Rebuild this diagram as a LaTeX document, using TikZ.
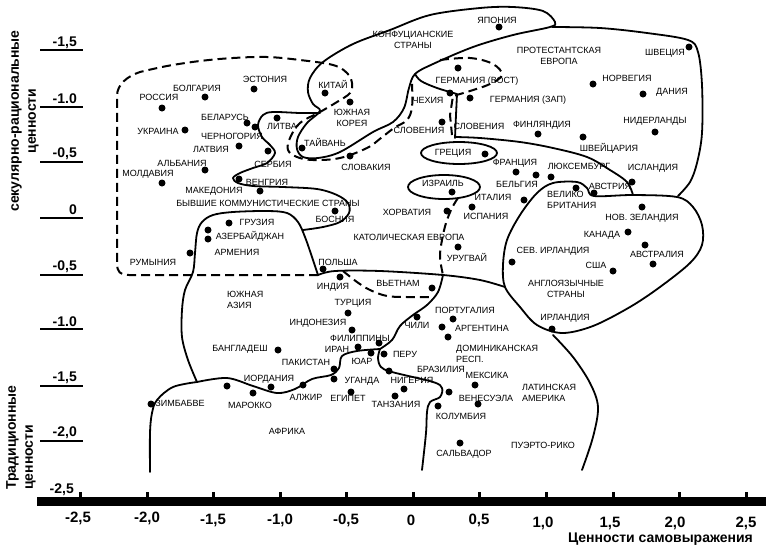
\documentclass[tikz,border=0pt]{standalone}
\usepackage{fontspec}
\setmainfont{Liberation Sans}
\tikzset{
  country/.style={circle,fill=black,inner sep=0pt,minimum size=7pt},
  cname/.style={font=\fontsize{9}{11}\selectfont,inner sep=0pt,align=center},
  zone/.style={line width=1.8pt,line join=round,line cap=round},
  exzone/.style={line width=2pt,dash pattern=on 9pt off 5pt},
  axnum/.style={font=\bfseries\fontsize{14}{16}\selectfont,inner sep=0pt},
  axtitle/.style={font=\bfseries\fontsize{14}{17}\selectfont,inner sep=0pt}
}

\begin{document}
\begin{tikzpicture}[x=1pt,y=-1pt]
\useasboundingbox (0,0) rectangle (766,550);

% zones
\draw[zone] plot[smooth cycle,tension=0.55] coordinates {(555,22) (543,11) (513,7) (480,8) (430,15) (390,30) (353,44) (323,62) (310,78) (308,92) (313,104) (320,111) (307,123) (298,137) (297,149) (303,157) (318,158) (340,152) (373,132) (393,122) (404,108) (409,88) (415,74) (433,64) (473,47) (513,35) (550,27)};
\draw[zone] plot[smooth,tension=0.55] coordinates {(552,27) (600,28) (647,33) (688,40) (698,52) (702,85) (702,133) (697,163) (690,182) (678,196)};
\draw[zone] plot[smooth,tension=0.55] coordinates {(633,195) (627,182) (610,170) (587,157) (553,148) (520,142) (480,138) (455,137)};
\draw[zone] plot[smooth,tension=0.55] coordinates {(415,74) (421,81) (437,88) (457,94)} -- (456,115) -- (455,138);
\draw[zone] plot[smooth cycle,tension=0.55] coordinates {(520,215) (537,193) (553,183) (577,182) (587,188) (594,196) (633,195) (677,197) (693,207) (702,225) (702,245) (690,263) (660,287) (630,307) (593,326) (562,333) (537,325) (520,307) (505,287) (503,265) (507,240)};
\draw[zone] plot[smooth,tension=0.55] coordinates {(320,113) (300,113) (273,112) (263,115) (258,125) (262,137) (270,145) (275,153) (267,163) (253,168) (240,173) (233,178) (238,183) (253,186) (283,187) (317,189) (337,195) (348,203) (349,213) (340,222) (323,227) (303,230)};
\draw[zone] plot[smooth,tension=0.55] coordinates {(197,382) (188,360) (182,337) (182,310) (185,290) (193,272) (195,253) (197,233) (202,222) (213,215) (233,212) (267,211) (287,213) (298,222) (305,237) (312,257) (318,275)};
\draw[zone] plot[smooth,tension=0.55] coordinates {(318,275) (335,271) (380,271) (443,275) (480,280) (505,287)};
\draw[zone] plot[smooth,tension=0.55] coordinates {(553,335) (573,357) (590,383) (598,407) (593,437) (582,470)};
\draw[zone] plot[smooth,tension=0.55] coordinates {(197,382) (227,378) (253,386) (277,393) (295,389) (312,379) (331,375) (339,368) (342,356) (357,351) (380,349)};
\draw[zone] plot[smooth,tension=0.55] coordinates {(197,382) (173,387) (157,400) (152,413) (150,433) (150,472)};
\draw[zone] plot[smooth,tension=0.55] coordinates {(380,349) (378,358) (381,367) (392,372) (433,382) (442,388) (440,397) (430,402) (427,412) (426,433) (422,470)};
\draw[zone] plot[smooth,tension=0.55] coordinates {(380,349) (392,340) (400,326) (413,315) (427,305) (438,292) (443,275)};
\draw[zone] (459,153) ellipse [x radius=38,y radius=11];
\draw[zone] (444,187) ellipse [x radius=36,y radius=12];

% former communist border
\draw[exzone] (318,275) -- (129,275) .. controls (120,275) and (117,272) .. (117,263) -- (117,96) .. controls (117,84) and (128,76) .. (140,72)
  -- plot[smooth,tension=0.6] coordinates {(140,72) (167,66) (200,61) (233,58) (267,57) (300,60) (333,65) (347,73) (352,83) (350,93) (337,102) (320,112) (300,123) (290,138) (288,150) (297,157) (313,160) (340,158) (367,148) (381,138) (394,128) (407,120) (412,107) (412,84)};
\draw[exzone] plot[smooth,tension=0.6] coordinates {(440,60) (470,58) (493,64) (502,75) (490,84) (470,91) (453,96)} -- (450,115) -- (452,135);
\draw[exzone] plot[smooth,tension=0.6] coordinates {(458,198) (452,208) (446,223) (442,240) (440,257) (443,275)};
\draw[exzone] plot[smooth,tension=0.6] coordinates {(343,271) (357,282) (370,290) (387,296) (407,297) (430,297)};

% axes
\fill (37,497) rectangle (766,506);
\foreach \xa in {80,147,213,280,346,413,479,546,613,679,746}
  \fill (\xa-1.5,492) rectangle (\xa+1.5,497);
\foreach \t/\xa/\ya [count=\i] in {{-2,5}/78/518, {-2,0}/147/518, {-1,5}/213/520, {-1,0}/280/520, {-0,5}/346/520, {0}/411/520, {0,5}/479/520, {1,0}/543/523, {1,5}/610/523, {2,0}/675/523, {2,5}/746/523}
  \node[axnum,font=\bfseries\fontsize{15}{17}\selectfont] (xn\i) at (\xa,\ya) {\t};
\foreach \t/\ya/\yb [count=\i] in {{-1,5}/43/50, {-1.0}/99/107, {-0,5}/154/162, {0}/210/218, {-0,5}/267/275, {-1.0}/322/329, {-1,5}/378/386, {-2,0}/433/441}
{
  \node[axnum,anchor=east] (yn\i) at (77,\ya) {\t};
  \draw[line width=2pt] (40,\yb) -- (83,\yb);
}
\node[axnum,anchor=east] (yn9) at (74,490) {-2,5};
\node[axtitle,anchor=east] (xtitle) at (753,539) {Ценности самовыражения};
\node[axtitle,rotate=90,align=center] (ytop) at (25,121) {секулярно-рациональные\\ценности};
\node[axtitle,rotate=90,anchor=west,align=left] (ybot) at (21,490) {Традиционные\\ценности};

% countries
\node[country] (rus) at (162,108) {}; \node[cname] (rus t) at (159,97) {РОССИЯ};
\node[country] (bul) at (205,97) {}; \node[cname] (bul t) at (197,88) {БОЛГАРИЯ};
\node[country] (est) at (254,89) {}; \node[cname] (est t) at (265,79) {ЭСТОНИЯ};
\node[country] (chn) at (325,93) {}; \node[cname] (chn t) at (333,84) {КИТАЙ};
\node[country] (kor) at (350,102) {}; \node[cname] (kor t) at (352,118) {ЮЖНАЯ\\КОРЕЯ};
\node[country] (blr) at (247,123) {}; \node[cname] (blr t) at (225,117) {БЕЛАРУСЬ};
\node[country] (mne) at (255,127) {}; \node[cname] (mne t) at (232,136) {ЧЕРНОГОРИЯ};
\node[country] (ltu) at (277,118) {}; \node[cname] (ltu t) at (282,126) {ЛИТВА};
\node[country] (ukr) at (185,130) {}; \node[cname] (ukr t) at (158,131) {УКРАИНА};
\node[country] (lva) at (239,146) {}; \node[cname] (lva t) at (211,149) {ЛАТВИЯ};
\node[country] (srb) at (268,151) {}; \node[cname] (srb t) at (273,164) {СЕРБИЯ};
\node[country] (twn) at (302,148) {}; \node[cname] (twn t) at (325,142) {ТАЙВАНЬ};
\node[country] (alb) at (205,170) {}; \node[cname] (alb t) at (182,163) {АЛЬБАНИЯ};
\node[country] (svk) at (350,156) {}; \node[cname] (svk t) at (366,167) {СЛОВАКИЯ};
\node[country] (mda) at (162,183) {}; \node[cname] (mda t) at (148,174) {МОЛДАВИЯ};
\node[country] (hun) at (239,179) {}; \node[cname] (hun t) at (267,182) {ВЕНГРИЯ};
\node[country] (mkd) at (260,191) {}; \node[cname] (mkd t) at (214,191) {МАКЕДОНИЯ};
\node[country] (bih) at (335,211) {}; \node[cname] (bih t) at (335,219) {БОСНИЯ};
\node[country] (geo) at (229,223) {}; \node[cname] (geo t) at (257,222) {ГРУЗИЯ};
\node[country] (aze) at (208,230) {}; \node[cname] (aze t) at (250,236) {АЗЕРБАЙДЖАН};
\node[country] (arm) at (208,239) {}; \node[cname] (arm t) at (237,252) {АРМЕНИЯ};
\node[country] (rou) at (190,253) {}; \node[cname] (rou t) at (153,262) {РУМЫНИЯ};
\node[country] (pol) at (323,269) {}; \node[cname] (pol t) at (338,262) {ПОЛЬША};
\node[country] (ind) at (340,277) {}; \node[cname] (ind t) at (333,287) {ИНДИЯ};
\node[country] (vnm) at (432,288) {}; \node[cname] (vnm t) at (398,283) {ВЬЕТНАМ};
\node[country] (tur) at (348,313) {}; \node[cname] (tur t) at (353,303) {ТУРЦИЯ};
\node[country] (idn) at (352,330) {}; \node[cname] (idn t) at (318,323) {ИНДОНЕЗИЯ};
\node[country] (jpn) at (499,27) {}; \node[cname] (jpn t) at (497,20) {ЯПОНИЯ};
\node[country] (swe) at (689,47) {}; \node[cname] (swe t) at (665,53) {ШВЕЦИЯ};
\node[country] (deo) at (458,68) {}; \node[cname] (deo t) at (477,81) {ГЕРМАНИЯ (ВОСТ)};
\node[country] (nor) at (593,84) {}; \node[cname] (nor t) at (627,78) {НОРВЕГИЯ};
\node[country] (dnk) at (643,94) {}; \node[cname] (dnk t) at (672,92) {ДАНИЯ};
\node[country] (cze) at (450,93) {}; \node[cname] (cze t) at (428,100) {ЧЕХИЯ};
\node[country] (dew) at (470,98) {}; \node[cname] (dew t) at (528,100) {ГЕРМАНИЯ (ЗАП)};
\node[country] (svn) at (442,122) {}; \node[cname] (svn t) at (419,130) {СЛОВЕНИЯ};
\node[cname] (svn u) at (479,126) {СЛОВЕНИЯ};
\node[country] (fin) at (538,134) {}; \node[cname] (fin t) at (542,125) {ФИНЛЯНДИЯ};
\node[country] (nld) at (655,132) {}; \node[cname] (nld t) at (655,121) {НИДЕРЛАНДЫ};
\node[country] (che) at (583,137) {}; \node[cname] (che t) at (609,148) {ШВЕЙЦАРИЯ};
\node[country] (grc) at (485,154) {}; \node[cname] (grc t) at (453,153) {ГРЕЦИЯ};
\node[country] (fra) at (516,172) {}; \node[cname] (fra t) at (515,163) {ФРАНЦИЯ};
\node[country] (bel) at (536,175) {}; \node[cname] (bel t) at (517,184) {БЕЛЬГИЯ};
\node[country] (lux) at (551,177) {}; \node[cname] (lux t) at (579,166) {ЛЮКСЕМБУРГ};
\node[country] (isl) at (632,182) {}; \node[cname] (isl t) at (653,168) {ИСЛАНДИЯ};
\node[country] (isr) at (452,192) {}; \node[cname] (isr t) at (443,183) {ИЗРАИЛЬ};
\node[country] (gbr) at (576,188) {}; \node[cname,anchor=west,align=left] (gbr t) at (547,200) {ВЕЛИКО\\БРИТАНИЯ};
\node[country] (aut) at (594,193) {}; \node[cname] (aut t) at (610,186) {АВСТРИЯ};
\node[country] (ita) at (524,200) {}; \node[cname] (ita t) at (493,197) {ИТАЛИЯ};
\node[country] (hrv) at (447,211) {}; \node[cname] (hrv t) at (407,212) {ХОРВАТИЯ};
\node[country] (esp) at (472,207) {}; \node[cname] (esp t) at (486,216) {ИСПАНИЯ};
\node[country] (nzl) at (642,207) {}; \node[cname] (nzl t) at (642,218) {НОВ. ЗЕЛАНДИЯ};
\node[country] (ury) at (458,247) {}; \node[cname] (ury t) at (467,257) {УРУГВАЙ};
\node[country] (can) at (628,232) {}; \node[cname] (can t) at (602,235) {КАНАДА};
\node[country] (aus) at (645,245) {}; \node[cname] (aus t) at (657,254) {АВСТРАЛИЯ};
\node[country] (aus b) at (653,264) {};
\node[country] (nir) at (512,262) {}; \node[cname] (nir t) at (553,251) {СЕВ. ИРЛАНДИЯ};
\node[country] (usa) at (613,271) {}; \node[cname] (usa t) at (596,265) {США};
\node[country] (irl) at (552,329) {}; \node[cname] (irl t) at (565,318) {ИРЛАНДИЯ};
\node[country] (bgd) at (278,350) {}; \node[cname] (bgd t) at (240,349) {БАНГЛАДЕШ};
\node[country] (irn) at (358,347) {}; \node[cname] (irn t) at (337,349) {ИРАН};
\node[country] (phl) at (379,343) {}; \node[cname] (phl t) at (360,338) {ФИЛИППИНЫ};
\node[country] (zaf) at (371,353) {}; \node[cname] (zaf t) at (362,361) {ЮАР};
\node[country] (per) at (384,354) {}; \node[cname] (per t) at (405,354) {ПЕРУ};
\node[country] (pak) at (334,369) {}; \node[cname] (pak t) at (306,362) {ПАКИСТАН};
\node[country] (uga) at (334,379) {}; \node[cname] (uga t) at (362,381) {УГАНДА};
\node[country] (jor) at (271,387) {}; \node[cname] (jor t) at (269,379) {ИОРДАНИЯ};
\node[country] (mar) at (253,393) {}; \node[cname] (mar t) at (250,405) {МАРОККО};
\node[country] (afa) at (227,386) {};
\node[country] (dza) at (303,385) {}; \node[cname] (dza t) at (306,397) {АЛЖИР};
\node[country] (egy) at (351,392) {}; \node[cname] (egy t) at (348,398) {ЕГИПЕТ};
\node[country] (zwe) at (151,404) {}; \node[cname] (zwe t) at (180,403) {ЗИМБАБВЕ};
\node[country] (prt) at (453,319) {}; \node[cname] (prt t) at (465,310) {ПОРТУГАЛИЯ};
\node[country] (chl) at (417,317) {}; \node[cname] (chl t) at (417,325) {ЧИЛИ};
\node[country] (arg) at (442,327) {}; \node[cname] (arg t) at (482,328) {АРГЕНТИНА};
\node[country] (dom) at (448,337) {}; \node[cname,anchor=west,align=left] (dom t) at (456,354) {ДОМИНИКАНСКАЯ\\РЕСП.};
\node[country] (bra) at (389,371) {}; \node[cname] (bra t) at (441,369) {БРАЗИЛИЯ};
\node[country] (mex) at (475,385) {}; \node[cname] (mex t) at (487,375) {МЕКСИКА};
\node[country] (nga) at (404,389) {}; \node[cname] (nga t) at (412,380) {НИГЕРИЯ};
\node[country] (ven) at (478,404) {}; \node[cname] (ven t) at (486,398) {ВЕНЕСУЭЛА};
\node[country] (bra b) at (449,392) {};
\node[country] (tza) at (395,396) {}; \node[cname] (tza t) at (396,404) {ТАНЗАНИЯ};
\node[country] (col) at (438,406) {}; \node[cname] (col t) at (461,416) {КОЛУМБИЯ};
\node[country] (slv) at (460,443) {}; \node[cname] (slv t) at (464,454) {САЛЬВАДОР};
\node[cname] (pri t) at (543,445) {ПУЭРТО-РИКО};

% zone names
\node[cname] (conf) at (413,40) {КОНФУЦИАНСКИЕ\\СТРАНЫ};
\node[cname] (prot) at (559,56) {ПРОТЕСТАНТСКАЯ\\ЕВРОПА};
\node[cname] (excom) at (268,203) {БЫВШИЕ КОММУНИСТИЧЕСКИЕ СТРАНЫ};
\node[cname] (cath) at (409,237) {КАТОЛИЧЕСКАЯ ЕВРОПА};
\node[cname] (engl) at (566,289) {АНГЛОЯЗЫЧНЫЕ\\СТРАНЫ};
\node[cname,anchor=west,align=left] (sasia) at (227,300) {ЮЖНАЯ\\АЗИЯ};
\node[cname] (afr) at (287,431) {АФРИКА};
\node[cname,anchor=west,align=left] (latam) at (522,393) {ЛАТИНСКАЯ\\АМЕРИКА};
\end{tikzpicture}
\end{document}
